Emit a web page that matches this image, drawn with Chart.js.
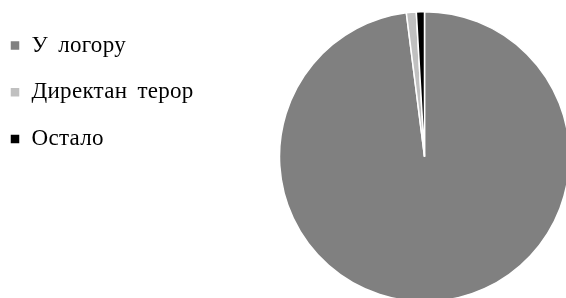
<!DOCTYPE html>
<html>
<head>
<meta charset="utf-8">
<script src="https://cdn.jsdelivr.net/npm/chart.js@4"></script>
<style>
    html, body { margin: 0; padding: 0; background: #fff; overflow: hidden; }
    #wrap { position: relative; width: 566px; height: 303px; }
</style>
</head>
<body>
<div id="wrap"><canvas id="myChart"></canvas></div>
<script>
// categories and shares (percent)
var categories = ['У логору', 'Директан терор', 'Остало'];
var shares = [98.0, 1.1, 0.9];
var sliceColors = ['#808080', '#c0c0c0', '#000000'];

// wider legend so the pie sits in the right half, plus looser text spacing
const legendTweaks = {
    id: 'legendTweaks',
    beforeUpdate(chart) {
        chart.ctx.letterSpacing = '0.3px';
        chart.ctx.wordSpacing = '4px';
        const legend = chart.legend;
        if (legend && !legend._wideFit) {
            const orig = legend.fit;
            legend.fit = function () {
                orig.call(this);
                this.width = 296.7;
            };
            legend._wideFit = true;
        }
    },
    beforeDraw(chart) {
        chart.ctx.letterSpacing = '0.3px';
        chart.ctx.wordSpacing = '4px';
    }
};

const data1 = {
    labels: categories,
    datasets: [{
        data: shares,
        backgroundColor: sliceColors,
        borderColor: '#ffffff',
        borderWidth: 1.5,
        radius: 145
    }]
};

const config = {
    type: 'pie',
    data: data1,
    options: {
        responsive: true,
        maintainAspectRatio: false,
        animation: false,
        layout: {
            padding: { left: -13.7, top: 10.3, right: 0, bottom: 0 }
        },
        plugins: {
            legend: {
                position: 'left',
                align: 'start',
                labels: {
                    boxWidth: 10,
                    boxHeight: 10,
                    padding: 23.7,
                    color: '#000',
                    font: { family: '"Liberation Serif", "Times New Roman", serif', size: 23 }
                }
            },
            tooltip: { enabled: false }
        }
    },
    plugins: [legendTweaks]
};

const myChart = new Chart(
    document.getElementById('myChart'),
    config
);
</script>
</body>
</html>
